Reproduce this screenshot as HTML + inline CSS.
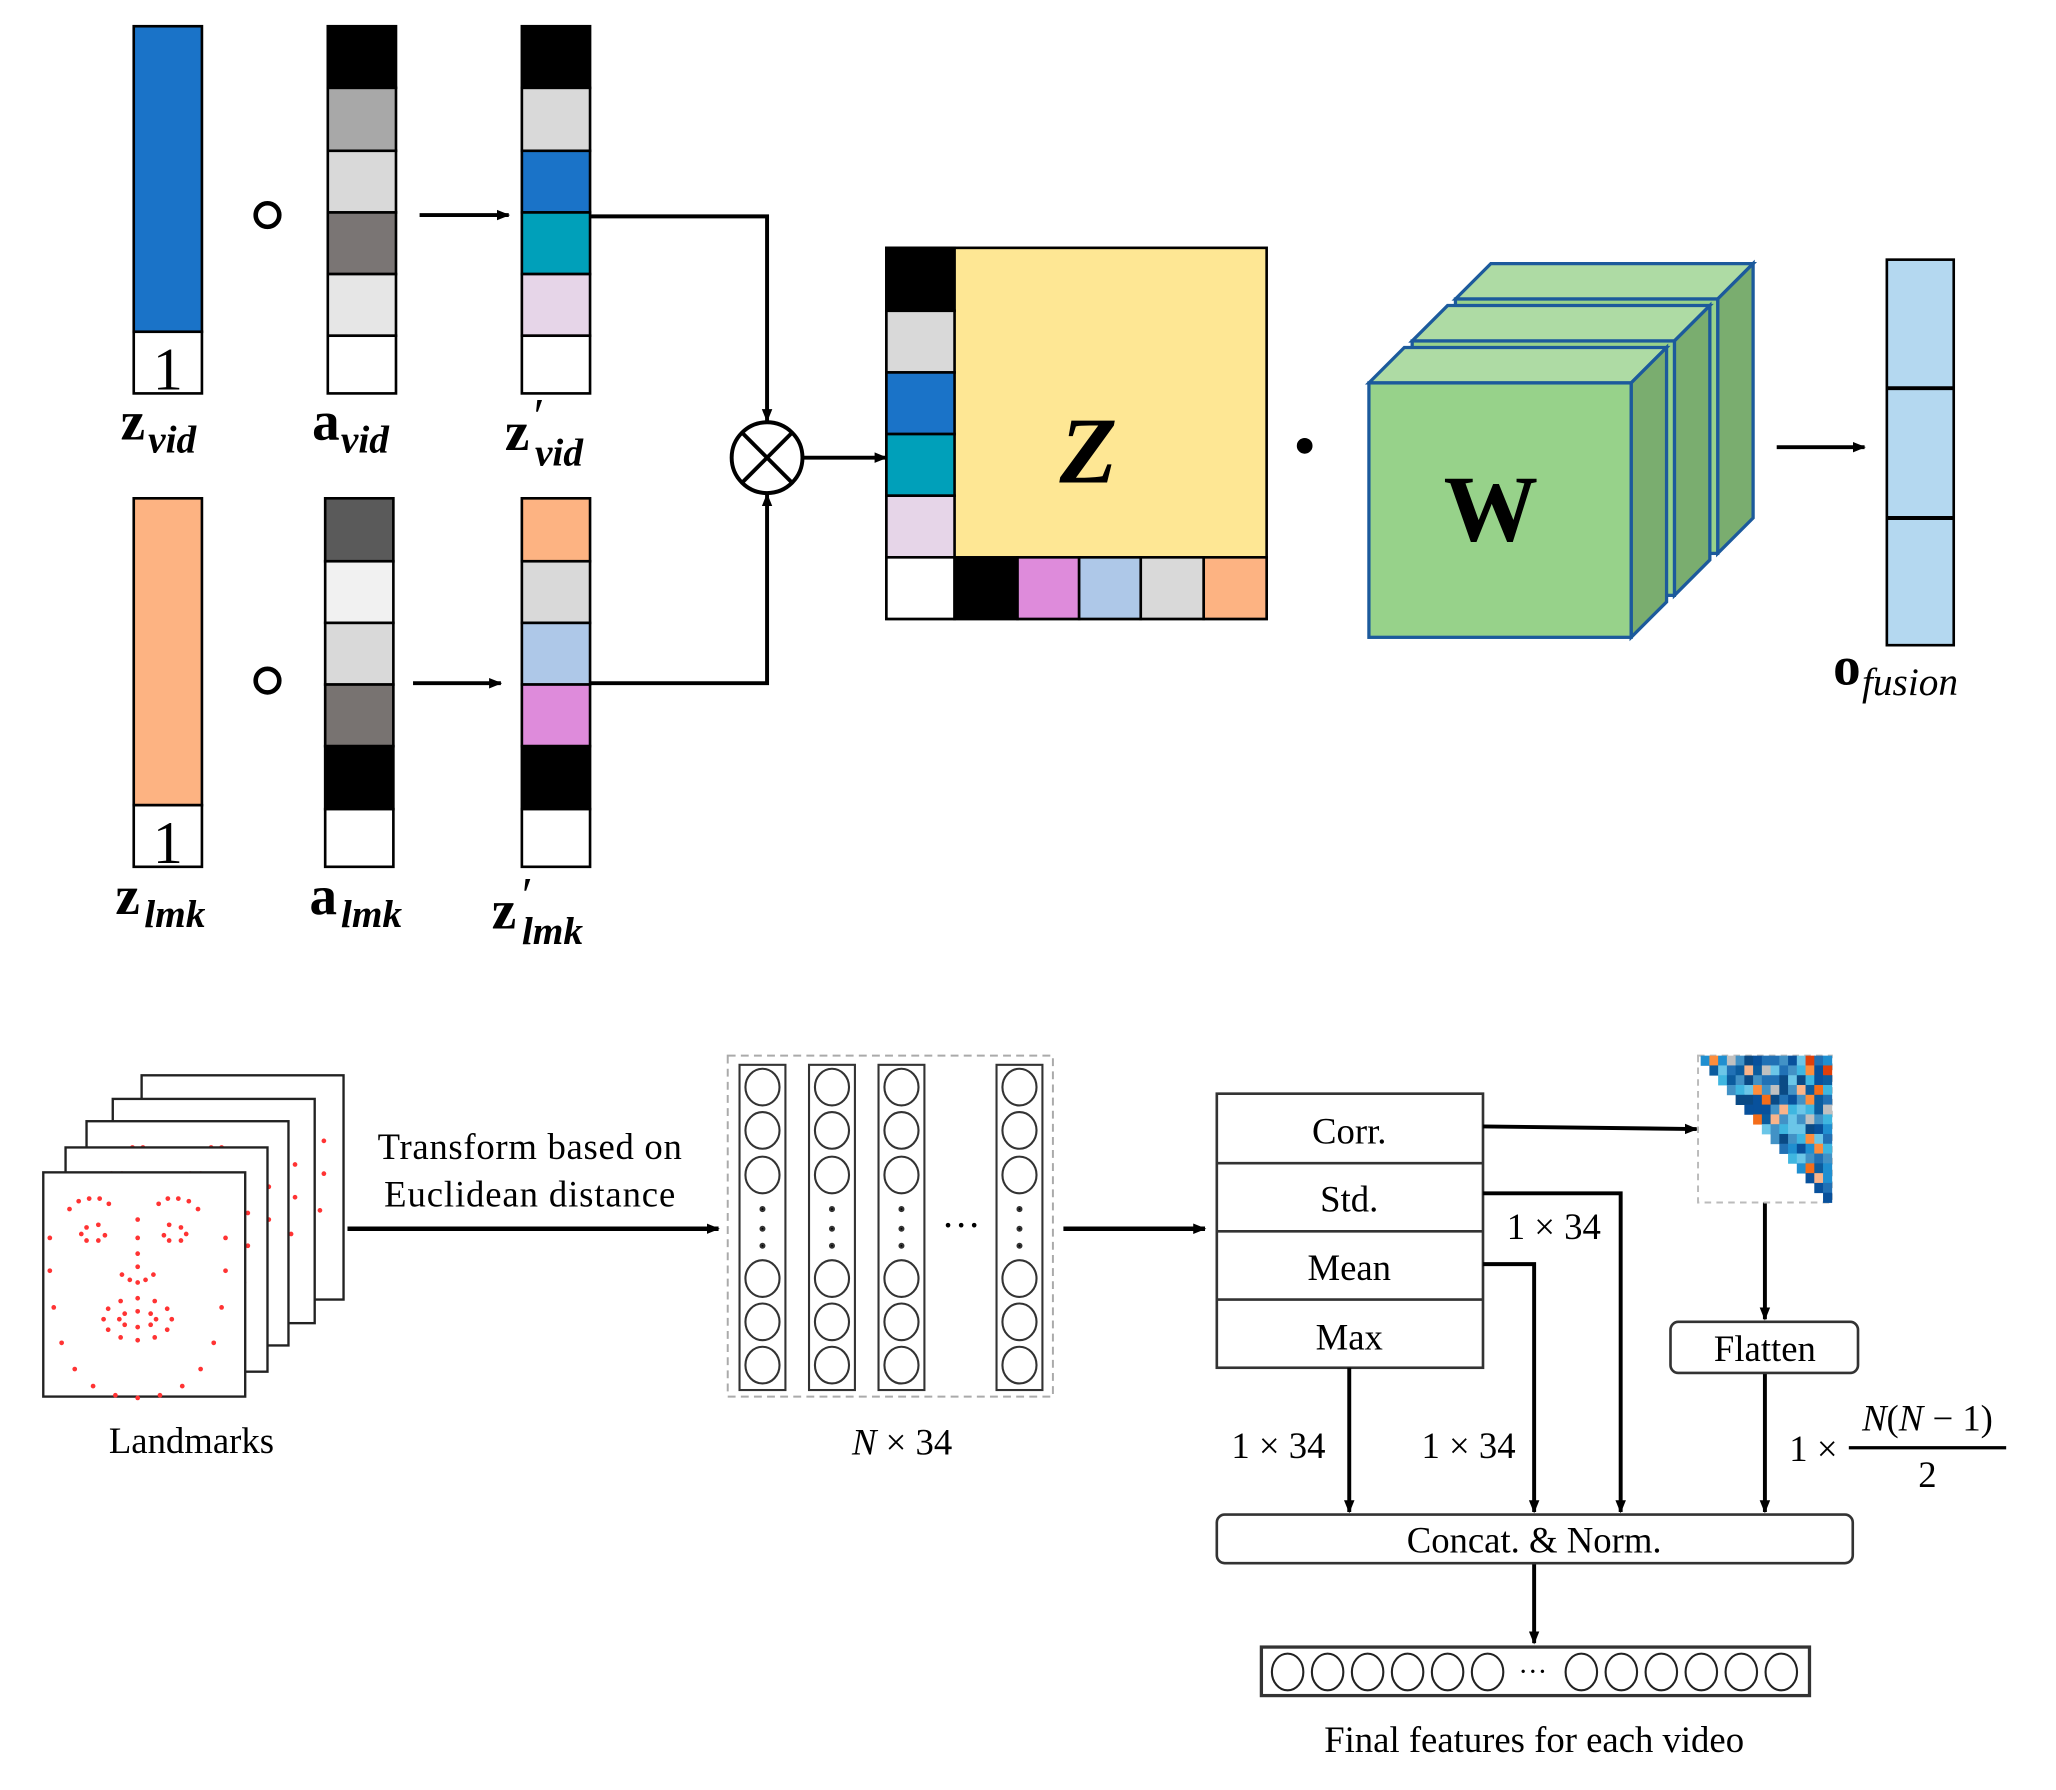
<!DOCTYPE html>
<html><head><meta charset="utf-8"><style>
html,body{margin:0;padding:0;background:#fff}
svg{display:block}
text{font-family:"Liberation Serif",serif}
</style></head><body>
<svg id="s" width="2056" height="1790" viewBox="0 0 1568 1365" preserveAspectRatio="none" xmlns="http://www.w3.org/2000/svg">
<defs>
<marker id="ah" markerWidth="10" markerHeight="10" refX="9" refY="5" orient="auto" markerUnits="userSpaceOnUse"><path d="M0,1 L10,5 L0,9 z" fill="#000"/></marker>
</defs>
<g stroke="#000" stroke-width="2">
<rect x="102" y="20" width="52" height="233" fill="#1a73c8"/>
<rect x="102" y="253" width="52" height="47" fill="#fff"/>
<rect x="250" y="20" width="52" height="47" fill="#000"/>
<rect x="250" y="67" width="52" height="48" fill="#a8a8a8"/>
<rect x="250" y="115" width="52" height="47" fill="#d9d9d9"/>
<rect x="250" y="162" width="52" height="47" fill="#7a7574"/>
<rect x="250" y="209" width="52" height="47" fill="#e6e6e6"/>
<rect x="250" y="256" width="52" height="44" fill="#fff"/>
<rect x="398" y="20" width="52" height="47" fill="#000"/>
<rect x="398" y="67" width="52" height="48" fill="#d9d9d9"/>
<rect x="398" y="115" width="52" height="47" fill="#1a73c8"/>
<rect x="398" y="162" width="52" height="47" fill="#00a0ba"/>
<rect x="398" y="209" width="52" height="47" fill="#e6d5e8"/>
<rect x="398" y="256" width="52" height="44" fill="#fff"/>
<rect x="102" y="380" width="52" height="234" fill="#fdb382"/>
<rect x="102" y="614" width="52" height="47" fill="#fff"/>
<rect x="248" y="380" width="52" height="48" fill="#5a5a5a"/>
<rect x="248" y="428" width="52" height="47" fill="#f1f1f1"/>
<rect x="248" y="475" width="52" height="47" fill="#d9d9d9"/>
<rect x="248" y="522" width="52" height="47" fill="#787371"/>
<rect x="248" y="569" width="52" height="48" fill="#000"/>
<rect x="248" y="617" width="52" height="44" fill="#fff"/>
<rect x="398" y="380" width="52" height="48" fill="#fdb382"/>
<rect x="398" y="428" width="52" height="47" fill="#d9d9d9"/>
<rect x="398" y="475" width="52" height="47" fill="#aec8e8"/>
<rect x="398" y="522" width="52" height="47" fill="#de8bdb"/>
<rect x="398" y="569" width="52" height="48" fill="#000"/>
<rect x="398" y="617" width="52" height="44" fill="#fff"/>
</g>
<text x="128" y="297" font-size="46" text-anchor="middle">1</text>
<text x="128" y="658" font-size="46" text-anchor="middle">1</text>
<circle cx="204" cy="164" r="9" fill="none" stroke="#000" stroke-width="3.5"/>
<circle cx="204" cy="519" r="9" fill="none" stroke="#000" stroke-width="3.5"/>
<g stroke="#000" stroke-width="3" fill="none">
<line x1="320" y1="164" x2="388" y2="164" marker-end="url(#ah)"/>
<line x1="315" y1="521" x2="382" y2="521" marker-end="url(#ah)"/>
<polyline points="450,165 585,165 585,321" marker-end="url(#ah)"/>
<polyline points="450,521 585,521 585,377" marker-end="url(#ah)"/>
<line x1="612" y1="349" x2="676" y2="349" marker-end="url(#ah)"/>
<circle cx="585" cy="349" r="27" fill="#fff"/>
<line x1="566" y1="330" x2="604" y2="368"/><line x1="604" y1="330" x2="566" y2="368"/>
<line x1="1355" y1="341" x2="1422" y2="341" marker-end="url(#ah)"/>
</g>
<g font-weight="bold">
<text x="92" y="335" font-size="42">z</text><text x="113" y="345" font-size="30" font-style="italic">vid</text>
<text x="238" y="335" font-size="42">a</text><text x="260" y="345" font-size="30" font-style="italic">vid</text>
<text x="385" y="343" font-size="42">z</text><text x="407" y="330" font-size="38" font-weight="normal">′</text><text x="408" y="355" font-size="30" font-style="italic">vid</text>
<text x="88" y="697" font-size="42">z</text><text x="110" y="707" font-size="30" font-style="italic">lmk</text>
<text x="236" y="697" font-size="42">a</text><text x="260" y="707" font-size="30" font-style="italic">lmk</text>
<text x="375" y="708" font-size="42">z</text><text x="398" y="695" font-size="38" font-weight="normal">′</text><text x="398" y="720" font-size="30" font-style="italic">lmk</text>
<text x="1398" y="522" font-size="42">o</text><text x="1420" y="530" font-size="30" font-style="italic" font-weight="normal">fusion</text>
</g>
<g stroke="#000" stroke-width="2">
<rect x="676" y="189" width="290" height="283" fill="#fee794"/>
<rect x="676" y="189" width="52" height="48" fill="#000"/>
<rect x="676" y="237" width="52" height="47" fill="#d9d9d9"/>
<rect x="676" y="284" width="52" height="47" fill="#1a73c8"/>
<rect x="676" y="331" width="52" height="47" fill="#00a0ba"/>
<rect x="676" y="378" width="52" height="47" fill="#e6d5e8"/>
<rect x="676" y="425" width="52" height="47" fill="#fff"/>
<rect x="728" y="425" width="48" height="47" fill="#000"/>
<rect x="776" y="425" width="47" height="47" fill="#de8bdb"/>
<rect x="823" y="425" width="47" height="47" fill="#aec8e8"/>
<rect x="870" y="425" width="48" height="47" fill="#d9d9d9"/>
<rect x="918" y="425" width="48" height="47" fill="#fdb382"/>
</g>
<text x="830" y="368" font-size="72" font-weight="bold" font-style="italic" text-anchor="middle">Z</text>
<circle cx="995" cy="340" r="6" fill="#000"/>
<g stroke="#1c5a9c" stroke-width="2.5">
<g transform="translate(66,-64)">
<polygon points="1044,292 1071,265 1271,265 1244,292" fill="#aedba4"/>
<polygon points="1244,292 1271,265 1271,459 1244,486" fill="#7aad6f"/>
<rect x="1044" y="292" width="200" height="194" fill="#97d28a"/></g>
<g transform="translate(33,-32)">
<polygon points="1044,292 1071,265 1271,265 1244,292" fill="#aedba4"/>
<polygon points="1244,292 1271,265 1271,459 1244,486" fill="#7aad6f"/>
<rect x="1044" y="292" width="200" height="194" fill="#97d28a"/></g>
<polygon points="1044,292 1071,265 1271,265 1244,292" fill="#aedba4"/>
<polygon points="1244,292 1271,265 1271,459 1244,486" fill="#7aad6f"/>
<rect x="1044" y="292" width="200" height="194" fill="#97d28a"/>
</g>
<text x="1137" y="412" font-size="72" font-weight="bold" text-anchor="middle">W</text>
<rect x="1439" y="198" width="51" height="294" fill="#b4d8f0" stroke="#000" stroke-width="2"/>
<line x1="1439" y1="296" x2="1490" y2="296" stroke="#000" stroke-width="3"/>
<line x1="1439" y1="395" x2="1490" y2="395" stroke="#000" stroke-width="3"/>

<g id="cards"></g>
<text x="146" y="1108" font-size="28" text-anchor="middle">Landmarks</text>
<text x="404" y="884" font-size="28" text-anchor="middle" textLength="232">Transform based on</text>
<text x="404" y="920" font-size="28" text-anchor="middle" textLength="222">Euclidean distance</text>
<line x1="265" y1="937" x2="548" y2="937" stroke="#000" stroke-width="3.5" marker-end="url(#ah)"/>
<rect x="555" y="805" width="248" height="260" fill="none" stroke="#aaa" stroke-width="1.5" stroke-dasharray="6,4"/>
<g id="cols" stroke="#333" stroke-width="1.6" fill="none"></g>
<text x="733" y="944" font-size="30" text-anchor="middle">···</text>
<text x="688" y="1109" font-size="28" text-anchor="middle"><tspan font-style="italic">N</tspan> × 34</text>
<line x1="811" y1="937" x2="919" y2="937" stroke="#000" stroke-width="3.5" marker-end="url(#ah)"/>
<g stroke="#333" stroke-width="2" fill="#fff">
<rect x="928" y="834" width="203" height="209"/>
<line x1="928" y1="887" x2="1131" y2="887"/><line x1="928" y1="939" x2="1131" y2="939"/><line x1="928" y1="991" x2="1131" y2="991"/>
</g>
<g font-size="28" text-anchor="middle">
<text x="1029" y="872">Corr.</text><text x="1029" y="924">Std.</text><text x="1029" y="976">Mean</text><text x="1029" y="1029">Max</text>
</g>
<g stroke="#000" stroke-width="3" fill="none">
<line x1="1131" y1="859" x2="1294" y2="861" marker-end="url(#ah)"/>
<polyline points="1131,910 1236,910 1236,1153" marker-end="url(#ah)"/>
<polyline points="1131,964 1170,964 1170,1153" marker-end="url(#ah)"/>
<line x1="1029" y1="1043" x2="1029" y2="1153" marker-end="url(#ah)"/>
<line x1="1346" y1="917" x2="1346" y2="1006" marker-end="url(#ah)"/>
<line x1="1346" y1="1047" x2="1346" y2="1153" marker-end="url(#ah)"/>
<line x1="1170" y1="1192" x2="1170" y2="1253" marker-end="url(#ah)"/>
</g>
<rect x="1295" y="805" width="102" height="112" fill="none" stroke="#bbb" stroke-width="1.5" stroke-dasharray="5,4"/>
<g id="heat"></g>
<rect x="1274" y="1008" width="143" height="39" rx="6" fill="#fff" stroke="#333" stroke-width="2"/>
<text x="1346" y="1038" font-size="28" text-anchor="middle">Flatten</text>
<g font-size="28" text-anchor="middle">
<text x="1185" y="945">1 × 34</text>
<text x="1120" y="1112">1 × 34</text>
<text x="975" y="1112">1 × 34</text>
<text x="1383" y="1114">1 ×</text>
<text x="1470" y="1091"><tspan font-style="italic">N</tspan>(<tspan font-style="italic">N</tspan> − 1)</text>
<text x="1470" y="1134">2</text>
</g>
<line x1="1410" y1="1104" x2="1530" y2="1104" stroke="#000" stroke-width="2.5"/>
<rect x="928" y="1155" width="485" height="37" rx="6" fill="#fff" stroke="#333" stroke-width="2"/>
<text x="1170" y="1184" font-size="28" text-anchor="middle">Concat. &amp; Norm.</text>
<rect x="962" y="1256" width="418" height="37" fill="#fff" stroke="#333" stroke-width="2.5"/>
<g id="fc" stroke="#222" stroke-width="1.6" fill="none"></g>
<text x="1169" y="1282" font-size="22" text-anchor="middle">···</text>
<text x="1170" y="1336" font-size="28" text-anchor="middle">Final features for each video</text>
</svg>
<script>
var NS="http://www.w3.org/2000/svg";
function el(p,t,a){var e=document.createElementNS(NS,t);for(var k in a)e.setAttribute(k,a[k]);p.appendChild(e);return e;}
var pts=[];
var jaw=[[5,50],[5,75],[8,103],[14,130],[24,150],[38,163],[55,170],[72,172],[89,170],[106,163],[120,150],[130,130],[136,103],[139,75],[139,50]];
pts=pts.concat(jaw);
[[20,28],[27,22],[35,20],[43,20],[50,24],[88,24],[95,20],[103,20],[111,22],[118,28]].forEach(function(p){pts.push(p)});
[[33,42],[42,40],[47,48],[42,52],[33,52],[29,47],[96,40],[105,42],[109,47],[105,52],[96,52],[92,48]].forEach(function(p){pts.push(p)});
[[72,36],[72,50],[72,62],[72,72],[60,78],[66,82],[72,84],[78,82],[84,78]].forEach(function(p){pts.push(p)});
for(var i=0;i<12;i++){var a=i/12*2*Math.PI;pts.push([72+26*Math.cos(a),112+16*Math.sin(a)]);}
for(var i=0;i<8;i++){var a=i/8*2*Math.PI;pts.push([72+14*Math.cos(a),112+6*Math.sin(a)]);}
var cards=document.getElementById('cards');
[[108,820],[86,838],[66,855],[50,875],[33,894]].forEach(function(c){
 var g=el(cards,'g',{transform:'translate('+c[0]+','+c[1]+')'});
 el(g,'rect',{x:0,y:0,width:154,height:171,fill:'#fff',stroke:'#222','stroke-width':1.8});
 pts.forEach(function(p){el(g,'circle',{cx:p[0],cy:p[1],r:1.8,fill:'#f33'});});
});
var cols=document.getElementById('cols');
[564,617,670,760].forEach(function(x){
 el(cols,'rect',{x:x,y:812,width:35,height:248});
 [829,862,896,975,1008,1041].forEach(function(y){el(cols,'ellipse',{cx:x+17.5,cy:y,rx:13,ry:14});});
 [922,937,950].forEach(function(y){el(cols,'circle',{cx:x+17.5,cy:y,r:1.5,fill:'#000'});});
});
var heat=document.getElementById('heat');var n=15,cw=100/n,ch=112/n;var seed=7;
function rnd(){seed=(seed*9301+49297)%233280;return seed/233280;}
var cl=['#08519c','#2171b5','#0b5c9e','#4292c6','#1f8fd0','#3fb6e0','#0a4a85','#6bc6e8'];
var or=['#f46d1a','#fd8d3c','#e0400a','#f9b48a','#c0c0c0'];
for(var r=0;r<n;r++)for(var c=r;c<n;c++){
 var f=rnd()<0.16?or[Math.floor(rnd()*or.length)]:cl[Math.floor(rnd()*cl.length)];
 el(heat,'rect',{x:1297+c*cw,y:805+r*ch,width:cw+0.3,height:ch+0.3,fill:f});
}
var fc=document.getElementById('fc');
for(var i=0;i<6;i++){el(fc,'ellipse',{cx:982+i*30.5,cy:1275,rx:12,ry:14});el(fc,'ellipse',{cx:1206+i*30.5,cy:1275,rx:12,ry:14});}
</script>
</body></html>
